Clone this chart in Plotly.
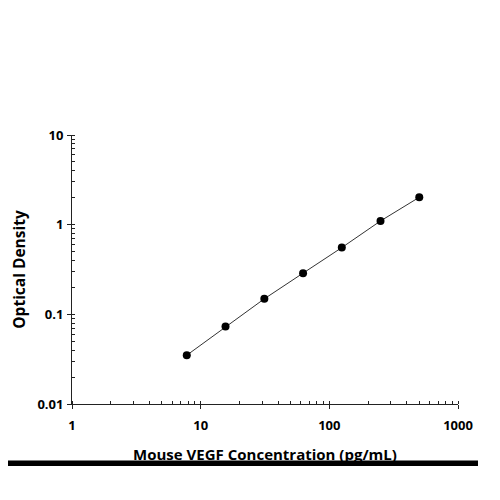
import plotly.graph_objects as go

concentration = [7.8, 15.6, 31.25, 62.5, 125, 250, 500]
optical_density = [0.035, 0.073, 0.149, 0.288, 0.555, 1.10, 2.02]

x_tickvals = [1, 10, 100, 1000]
x_ticktext = ["1", "10", "100", "1000"]
y_tickvals = [0.01, 0.1, 1, 10]
y_ticktext = ["0.01", "0.1", "1", "10"]

FONT = "Open Sans"

fig = go.Figure()
fig.add_trace(go.Scatter(
    x=concentration, y=optical_density, mode="lines+markers",
    line=dict(color="#333333", width=1),
    marker=dict(color="black", size=8),
    showlegend=False, hoverinfo="skip"))

axis_common = dict(
    type="log", showgrid=False, zeroline=False, showline=True,
    linecolor="#222222", linewidth=1,
    ticks="outside", ticklen=4, tickcolor="#222222", tickwidth=1,
    tickfont=dict(family=FONT, size=13, color="black", weight="bold"),
    minor=dict(ticks="inside", ticklen=3, tickcolor="#222222", dtick="D1", showgrid=False),
)

fig.update_xaxes(
    **axis_common,
    range=[0, 3], tickvals=x_tickvals, ticktext=x_ticktext,
    ticklabelstandoff=5,
    title=dict(text="Mouse VEGF Concentration (pg/mL)",
               font=dict(family=FONT, size=15, color="black", weight="bold"),
               standoff=16),
)
fig.update_yaxes(
    **axis_common,
    range=[-2, 1], tickvals=y_tickvals, ticktext=y_ticktext,
    ticklabelstandoff=1,
    title=dict(text="Optical Density",
               font=dict(family=FONT, size=15.5, color="black", weight="bold"),
               standoff=16),
)

fig.add_shape(type="rect", xref="paper", yref="paper",
              x0=-0.1865, x1=1.0518, y0=-0.2305, y1=-0.2100,
              fillcolor="black", line=dict(width=0), layer="above")

fig.update_layout(
    width=500, height=500,
    margin=dict(l=64, r=50, t=127, b=104),
    paper_bgcolor="white", plot_bgcolor="white",
)
fig.update_xaxes(automargin=False)
fig.update_yaxes(automargin=False)

fig.write_html("out.html")
